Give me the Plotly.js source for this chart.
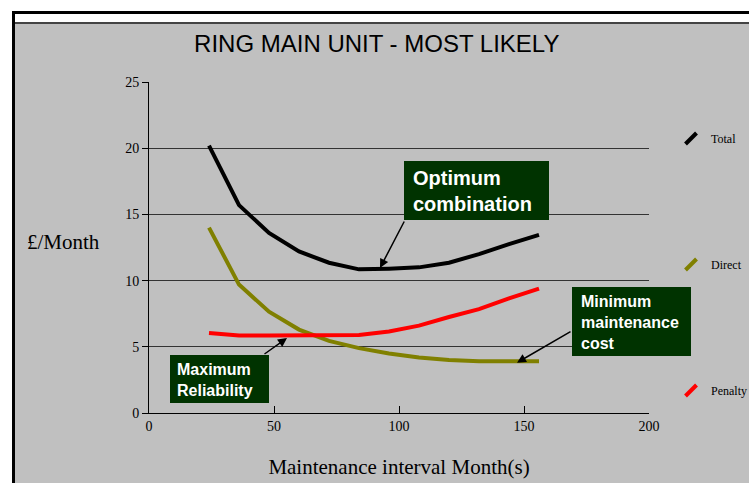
<!DOCTYPE html>
<html>
<head>
<meta charset="utf-8">
<script src="https://cdn.plot.ly/plotly-3.0.1.min.js"></script>
<style>html,body{margin:0;padding:0;background:#fff;}#chart{width:749px;height:483px;}</style>
</head>
<body>
<div id="chart"></div>
<script>
// Data
const intervals = [24, 36, 48, 60, 72, 84, 96, 108, 120, 132, 144, 156];
const totalCost   = [20.2, 15.7, 13.6, 12.2, 11.35, 10.85, 10.9, 11.0, 11.35, 12.0, 12.75, 13.45];
const directCost  = [14.0, 9.7, 7.65, 6.3, 5.45, 4.9, 4.5, 4.2, 4.0, 3.9, 3.9, 3.9];
const penaltyCost = [6.05, 5.85, 5.85, 5.85, 5.85, 5.9, 6.15, 6.6, 7.25, 7.85, 8.65, 9.4];
const seriesNames = ['Total', 'Direct', 'Penalty'];
const seriesColors = ['#000000', '#808000', '#ff0000'];
const xTicks = [0, 50, 100, 150, 200];
const yTicks = [0, 5, 10, 15, 20, 25];

const serif = 'Liberation Serif, Times New Roman, serif';
const sansBold = 'Liberation Sans, Arial, sans-serif';

const values = [totalCost, directCost, penaltyCost];
const traces = [];
values.forEach((v, i) => {
  traces.push({
    x: intervals, y: v, type: 'scatter', mode: 'lines',
    line: {color: seriesColors[i], width: 4},
    showlegend: false, hoverinfo: 'skip'
  });
});
// legend-only entries with slanted line symbols
seriesNames.forEach((n, i) => {
  traces.push({
    x: [null], y: [null], type: 'scatter', mode: 'markers', name: n,
    legendgroup: n,
    marker: {symbol: 'line-ne', size: 11, color: seriesColors[i], line: {color: seriesColors[i], width: 4}}
  });
});

const px = (p) => (p - 149) / 500;
const py = (p) => (413 - p) / 331;
const boxColor = '#003300';

const layout = {
  width: 749, height: 483,
  margin: {l: 149, r: 100, t: 82, b: 70, autoexpand: false},
  paper_bgcolor: '#ffffff',
  plot_bgcolor: 'rgba(0,0,0,0)',
  title: {
    text: 'RING MAIN UNIT - MOST LIKELY',
    font: {family: 'Liberation Sans, Arial, sans-serif', size: 24, color: '#000'},
    xref: 'container', x: 0.503, xanchor: 'center',
    yref: 'container', y: 1 - 44 / 483, yanchor: 'middle'
  },
  xaxis: {
    range: [0, 200], tickvals: xTicks, ticktext: xTicks.map(String),
    ticks: 'inside', ticklen: 7, tickwidth: 1, tickcolor: '#000',
    showline: true, linecolor: '#000', linewidth: 1,
    showgrid: false, zeroline: false,
    tickfont: {family: serif, size: 14, color: '#000'},
    title: {text: 'Maintenance interval Month(s)', font: {family: serif, size: 21, color: '#000'}, standoff: 26},
    fixedrange: true
  },
  yaxis: {
    range: [0, 25], tickvals: yTicks, ticktext: yTicks.map(String),
    ticks: 'outside', ticklen: 6, tickwidth: 1, tickcolor: '#000',
    showline: true, linecolor: '#000', linewidth: 1,
    showgrid: true, gridcolor: '#333333', gridwidth: 1, zeroline: false,
    tickfont: {family: serif, size: 14, color: '#000'},
    fixedrange: true
  },
  showlegend: true,
  legend: {
    x: px(671), xanchor: 'left', y: py(124), yanchor: 'top', yref: 'paper',
    bgcolor: 'rgba(0,0,0,0)', borderwidth: 0,
    font: {family: serif, size: 12, color: '#000'},
    tracegroupgap: 107, itemwidth: 30
  },
  shapes: [
    {type: 'rect', xref: 'paper', yref: 'paper', x0: px(15), x1: 1.4, y0: -0.4, y1: py(23), fillcolor: '#c0c0c0', line: {width: 0}, layer: 'below'},
    {type: 'line', xref: 'paper', yref: 'paper', x0: px(13), x1: 1.4, y0: py(23), y1: py(23), line: {color: '#444444', width: 2}, layer: 'below'},
    {type: 'line', xref: 'paper', yref: 'paper', x0: px(12), x1: 1.4, y0: py(12.5), y1: py(12.5), line: {color: '#000', width: 3}, layer: 'below'},
    {type: 'line', xref: 'paper', yref: 'paper', x0: px(13.5), x1: px(13.5), y0: py(11), y1: -0.4, line: {color: '#000', width: 3}, layer: 'below'},
    {type: 'rect', xref: 'paper', yref: 'paper', x0: px(404), x1: px(549), y0: py(220), y1: py(161), fillcolor: boxColor, line: {width: 0}, layer: 'above'},
    {type: 'rect', xref: 'paper', yref: 'paper', x0: px(572), x1: px(691), y0: py(356), y1: py(287), fillcolor: boxColor, line: {width: 0}, layer: 'above'},
    {type: 'rect', xref: 'paper', yref: 'paper', x0: px(170), x1: px(269), y0: py(403), y1: py(355), fillcolor: boxColor, line: {width: 0}, layer: 'above'}
  ],
  annotations: [
    {text: '£/Month', xref: 'paper', yref: 'paper', x: px(63), y: py(242), xanchor: 'center', yanchor: 'middle', showarrow: false, font: {family: serif, size: 21, color: '#000'}},
    {text: '<b>Optimum<br>combination</b>', xref: 'paper', yref: 'paper', x: px(411), y: py(191), xanchor: 'left', yanchor: 'middle', align: 'left', showarrow: false, font: {family: sansBold, size: 20, color: '#fff'}},
    {text: '<b>Minimum<br>maintenance<br>cost</b>', xref: 'paper', yref: 'paper', x: px(579), y: py(322), xanchor: 'left', yanchor: 'middle', align: 'left', showarrow: false, font: {family: sansBold, size: 16, color: '#fff'}},
    {text: '<b>Maximum<br>Reliability</b>', xref: 'paper', yref: 'paper', x: px(175), y: py(380), xanchor: 'left', yanchor: 'middle', align: 'left', showarrow: false, font: {family: sansBold, size: 16, color: '#fff'}},
    {text: '', x: 92.4, y: 10.95, xref: 'x', yref: 'y', showarrow: true, ax: 25, ay: -48, arrowhead: 2, arrowsize: 1.2, arrowwidth: 1.5, arrowcolor: '#000', standoff: 0},
    {text: '', x: 147.2, y: 3.8, xref: 'x', yref: 'y', showarrow: true, ax: 55, ay: -32, arrowhead: 2, arrowsize: 1.2, arrowwidth: 1.5, arrowcolor: '#000', standoff: 0},
    {text: '', x: 55.2, y: 5.66, xref: 'x', yref: 'y', showarrow: true, ax: -24, ay: 17, arrowhead: 2, arrowsize: 1.2, arrowwidth: 1.5, arrowcolor: '#000', standoff: 0}
  ]
};

Plotly.newPlot('chart', traces, layout, {staticPlot: true, displayModeBar: false});
</script>
</body>
</html>
